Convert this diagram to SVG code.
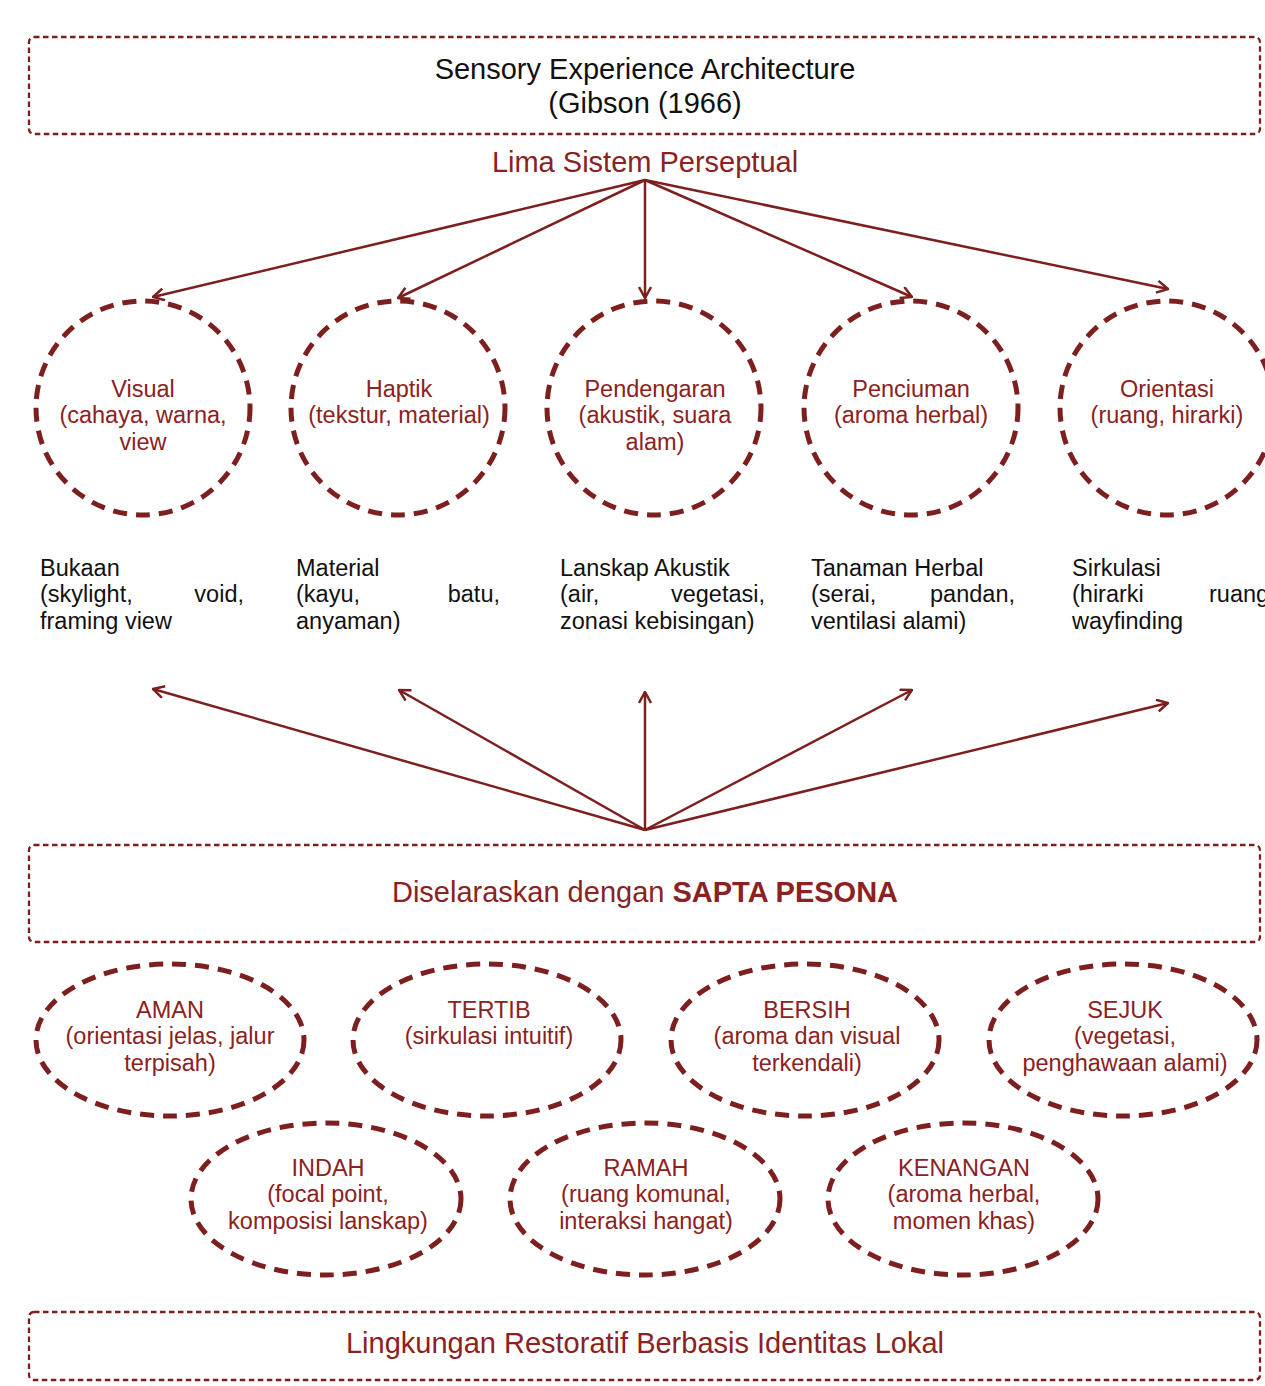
<svg xmlns="http://www.w3.org/2000/svg" width="1265" height="1386" viewBox="0 0 1265 1386">
<style>
text{font-family:"Liberation Sans",Arial,Helvetica,sans-serif}
.box{fill:none;stroke:#7d1f1f;stroke-width:2.3;stroke-dasharray:5.5 3.5}
.circ{fill:none;stroke:#7d1f1f;stroke-width:5;stroke-dasharray:14 9}
.red{fill:#8a2222}
.blk{fill:#111;font-size:23.5px}
.big{font-size:29px;text-anchor:middle}
.mid{font-size:23.5px;text-anchor:middle}
.conn{stroke:#7d1f1f;stroke-width:2.5;fill:none;marker-end:url(#arr)}
</style>
<defs>
<marker id="arr" viewBox="0 0 13 14" refX="12" refY="7" markerWidth="13" markerHeight="14" markerUnits="userSpaceOnUse" orient="auto">
<path d="M1,1 L12,7 L1,13" fill="none" stroke="#7d1f1f" stroke-width="2.5"/>
</marker>
</defs>
<rect width="1265" height="1386" fill="#fff"/>

<g id="title">
<rect class="box" x="29" y="37" width="1231" height="97" rx="5"/>
<text class="big" x="645" y="79" fill="#111">Sensory Experience Architecture</text>
<text class="big" x="645" y="113" fill="#111">(Gibson (1966)</text>
</g>

<g id="lima">
<text class="big red" x="645" y="172">Lima Sistem Perseptual</text>
</g>

<g id="visual">
<circle class="circ" cx="143" cy="408" r="107"/>
<text class="mid red" x="143" y="397">Visual</text>
<text class="mid red" x="143" y="423">(cahaya, warna,</text>
<text class="mid red" x="143" y="450">view</text>
</g>
<g id="haptik">
<circle class="circ" cx="398" cy="408" r="107"/>
<text class="mid red" x="399" y="397">Haptik</text>
<text class="mid red" x="399" y="423">(tekstur, material)</text>
</g>
<g id="pendengaran">
<circle class="circ" cx="654" cy="408" r="107"/>
<text class="mid red" x="655" y="397">Pendengaran</text>
<text class="mid red" x="655" y="423">(akustik, suara</text>
<text class="mid red" x="655" y="450">alam)</text>
</g>
<g id="penciuman">
<circle class="circ" cx="911" cy="408" r="107"/>
<text class="mid red" x="911" y="397">Penciuman</text>
<text class="mid red" x="911" y="423">(aroma herbal)</text>
</g>
<g id="orientasi">
<circle class="circ" cx="1167" cy="408" r="107"/>
<text class="mid red" x="1167" y="397">Orientasi</text>
<text class="mid red" x="1167" y="423">(ruang, hirarki)</text>
</g>

<g id="bukaan">
<text class="blk" x="40" y="576">Bukaan</text>
<text class="blk" x="40" y="602">(skylight,</text>
<text class="blk" x="244" y="602" text-anchor="end">void,</text>
<text class="blk" x="40" y="629">framing view</text>
</g>
<g id="material">
<text class="blk" x="296" y="576">Material</text>
<text class="blk" x="296" y="602">(kayu,</text>
<text class="blk" x="500" y="602" text-anchor="end">batu,</text>
<text class="blk" x="296" y="629">anyaman)</text>
</g>
<g id="lanskap">
<text class="blk" x="560" y="576">Lanskap Akustik</text>
<text class="blk" x="560" y="602">(air,</text>
<text class="blk" x="765" y="602" text-anchor="end">vegetasi,</text>
<text class="blk" x="560" y="629">zonasi kebisingan)</text>
</g>
<g id="tanaman">
<text class="blk" x="811" y="576">Tanaman Herbal</text>
<text class="blk" x="811" y="602">(serai,</text>
<text class="blk" x="1015" y="602" text-anchor="end">pandan,</text>
<text class="blk" x="811" y="629">ventilasi alami)</text>
</g>
<g id="sirkulasi">
<text class="blk" x="1072" y="576">Sirkulasi</text>
<text class="blk" x="1072" y="602">(hirarki</text>
<text class="blk" x="1209" y="602">ruang</text>
<text class="blk" x="1072" y="629">wayfinding</text>
</g>

<g id="connectors">
<line class="conn" x1="645" y1="180" x2="153" y2="297"/>
<line class="conn" x1="645" y1="180" x2="398" y2="298"/>
<line class="conn" x1="645" y1="180" x2="645" y2="298"/>
<line class="conn" x1="645" y1="180" x2="912" y2="297"/>
<line class="conn" x1="645" y1="180" x2="1168" y2="289"/>
<line class="conn" x1="645" y1="830" x2="153" y2="689"/>
<line class="conn" x1="645" y1="830" x2="399" y2="690"/>
<line class="conn" x1="645" y1="830" x2="645" y2="692"/>
<line class="conn" x1="645" y1="830" x2="912" y2="690"/>
<line class="conn" x1="645" y1="830" x2="1168" y2="703"/>
</g>

<g id="sapta">
<rect class="box" x="29" y="845" width="1231" height="97" rx="5"/>
<text class="big red" x="645" y="902">Diselaraskan dengan <tspan font-weight="bold">SAPTA PESONA</tspan></text>
</g>

<g id="aman">
<ellipse class="circ" cx="170" cy="1040" rx="134" ry="76"/>
<text class="mid red" x="170" y="1018">AMAN</text>
<text class="mid red" x="170" y="1044">(orientasi jelas, jalur</text>
<text class="mid red" x="170" y="1071">terpisah)</text>
</g>
<g id="tertib">
<ellipse class="circ" cx="487" cy="1040" rx="134" ry="76"/>
<text class="mid red" x="489" y="1018">TERTIB</text>
<text class="mid red" x="489" y="1044">(sirkulasi intuitif)</text>
</g>
<g id="bersih">
<ellipse class="circ" cx="805" cy="1040" rx="134" ry="76"/>
<text class="mid red" x="807" y="1018">BERSIH</text>
<text class="mid red" x="807" y="1044">(aroma dan visual</text>
<text class="mid red" x="807" y="1071">terkendali)</text>
</g>
<g id="sejuk">
<ellipse class="circ" cx="1123" cy="1040" rx="134" ry="76"/>
<text class="mid red" x="1125" y="1018">SEJUK</text>
<text class="mid red" x="1125" y="1044">(vegetasi,</text>
<text class="mid red" x="1125" y="1071">penghawaan alami)</text>
</g>
<g id="indah">
<ellipse class="circ" cx="326" cy="1199" rx="135" ry="76"/>
<text class="mid red" x="328" y="1176">INDAH</text>
<text class="mid red" x="328" y="1202">(focal point,</text>
<text class="mid red" x="328" y="1229">komposisi lanskap)</text>
</g>
<g id="ramah">
<ellipse class="circ" cx="645" cy="1199" rx="135" ry="76"/>
<text class="mid red" x="646" y="1176">RAMAH</text>
<text class="mid red" x="646" y="1202">(ruang komunal,</text>
<text class="mid red" x="646" y="1229">interaksi hangat)</text>
</g>
<g id="kenangan">
<ellipse class="circ" cx="963" cy="1199" rx="135" ry="76"/>
<text class="mid red" x="964" y="1176">KENANGAN</text>
<text class="mid red" x="964" y="1202">(aroma herbal,</text>
<text class="mid red" x="964" y="1229">momen khas)</text>
</g>

<g id="lingkungan">
<rect class="box" x="29" y="1312" width="1231" height="68" rx="5"/>
<text class="big red" x="645" y="1353">Lingkungan Restoratif Berbasis Identitas Lokal</text>
</g>
</svg>
